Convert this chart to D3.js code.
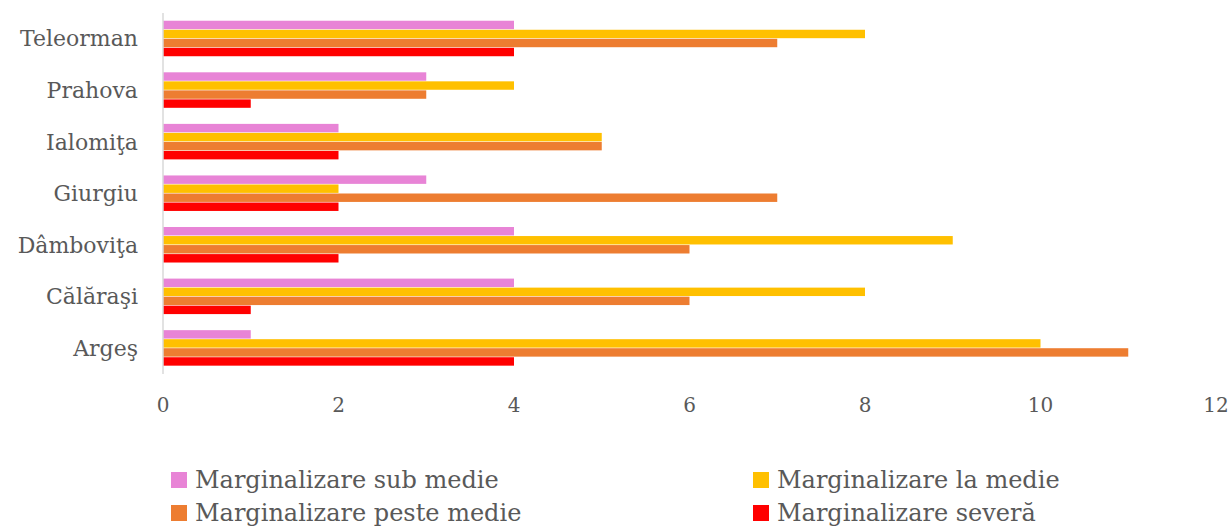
<!DOCTYPE html>
<html>
<head>
<meta charset="utf-8">
<script src="https://cdn.jsdelivr.net/npm/d3@7/dist/d3.min.js"></script>
<style>
	body { margin: 0; background: #fff; }
</style>
</head>
<body>
<div class="chart"></div>
<script>
var categories = ["Teleorman", "Prahova", "Ialomiţa", "Giurgiu", "Dâmboviţa", "Călăraşi", "Argeş"];
var seriesNames = ["Marginalizare sub medie", "Marginalizare la medie", "Marginalizare peste medie", "Marginalizare severă"];
var subMedie = [4, 3, 2, 3, 4, 4, 1];
var laMedie = [8, 4, 5, 2, 9, 8, 10];
var pesteMedie = [7, 3, 5, 7, 6, 6, 11];
var severa = [4, 1, 2, 2, 2, 1, 4];
var xTicks = [0, 2, 4, 6, 8, 10, 12];
var colors = ["#e884d6", "#ffc000", "#ed7d31", "#ff0000"];

var series = [subMedie, laMedie, pesteMedie, severa];

var width = 1230, height = 527,
	margin = {top: 13, right: 14, bottom: 153, left: 163},
	innerW = width - margin.left - margin.right,
	innerH = height - margin.top - margin.bottom;

var svg = d3.select('.chart').append('svg')
	.attr('width', width)
	.attr('height', height)
	.attr('font-family', "'DejaVu Serif', 'Liberation Serif', serif")
	.attr('fill', '#595959');

var g = svg.append('g').attr('transform', 'translate(' + margin.left + ',' + margin.top + ')');

var x = d3.scaleLinear().domain([0, 12]).range([0, innerW]);

var y0 = d3.scaleBand()
	.domain(categories)
	.range([0, innerH])
	.paddingInner(0.3)
	.paddingOuter(0.15);

var y1 = d3.scaleBand()
	.domain(d3.range(seriesNames.length))
	.range([0, y0.bandwidth()]);

var rows = categories.map(function(c, i) {
	return {cat: c, vals: series.map(function(s, k) { return {k: k, v: s[i]}; })};
});

g.append('g')
	.selectAll('g')
	.data(rows)
	.enter().append('g')
	.attr('transform', function(d) { return 'translate(0,' + y0(d.cat) + ')'; })
	.selectAll('rect')
	.data(function(d) { return d.vals; })
	.enter().append('rect')
	.attr('x', x(0))
	.attr('y', function(d) { return y1(d.k); })
	.attr('width', function(d) { return x(d.v) - x(0); })
	.attr('height', y1.bandwidth() - 0.6)
	.attr('fill', function(d) { return colors[d.k]; });

// vertical axis line
g.append('line')
	.attr('x1', 0).attr('x2', 0)
	.attr('y1', 0).attr('y2', innerH)
	.attr('stroke', '#d9d9d9')
	.attr('stroke-width', 1.5);

// category labels
g.append('g')
	.selectAll('text')
	.data(categories)
	.enter().append('text')
	.attr('x', -25)
	.attr('y', function(d) { return y0(d) + y0.bandwidth() / 2; })
	.attr('dy', '0.35em')
	.attr('text-anchor', 'end')
	.style('font-size', '22px')
	.text(function(d) { return d; });

// x tick labels
g.append('g')
	.selectAll('text')
	.data(xTicks)
	.enter().append('text')
	.attr('x', function(d) { return x(d); })
	.attr('y', innerH + 31)
	.attr('dy', '0.35em')
	.attr('text-anchor', 'middle')
	.style('font-size', '20px')
	.text(function(d) { return d; });

// legend
var legendPos = [[171, 480], [753, 480], [171, 513], [753, 513]];

var legend = svg.append('g')
	.selectAll('g')
	.data(seriesNames)
	.enter().append('g')
	.attr('transform', function(d, i) { return 'translate(' + legendPos[i][0] + ',' + legendPos[i][1] + ')'; });

legend.append('rect')
	.attr('x', 0).attr('y', -8)
	.attr('width', 16).attr('height', 16)
	.attr('fill', function(d, i) { return colors[i]; });

legend.append('text')
	.attr('x', 24)
	.attr('y', 0)
	.attr('dy', '0.35em')
	.style('font-size', '24px')
	.text(function(d) { return d; });
</script>
</body>
</html>
